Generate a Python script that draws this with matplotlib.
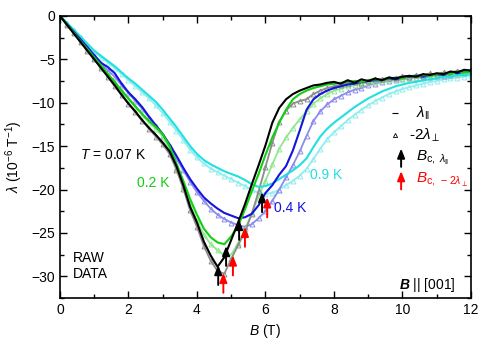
import numpy as np
import matplotlib
matplotlib.use("Agg")
import matplotlib.pyplot as plt

plt.rcParams['font.family'] = ['Liberation Sans', 'DejaVu Sans']
plt.rcParams['mathtext.fontset'] = 'custom'
plt.rcParams['mathtext.rm'] = 'Liberation Sans'
plt.rcParams['mathtext.it'] = 'Liberation Sans:italic'
plt.rcParams['mathtext.bf'] = 'Liberation Sans:bold:italic'

# field grid, 0 .. 12 T in 0.2 T steps
B = np.round(np.arange(0, 12.01, 0.2), 1)

# T = 0.07 K
par_007 = [0, -1.0, -2.0, -3.0, -4.0, -5.0, -6.0, -7.0, -8.0, -9.1, -10.1, -11.0, -12.0, -12.9, -13.7,
           -14.6, -15.6, -17.3, -19.5, -22.0, -23.8, -26.0, -27.6, -28.9, -27.8, -25.8, -23.8, -21.7,
           -19.4, -17.2, -14.9, -12.3, -10.6, -9.6, -9.0, -8.6, -8.3, -8.0, -7.9, -7.7, -7.6, -7.8,
           -7.4, -7.7, -7.3, -7.5, -7.2, -7.4, -7.1, -7.2, -7.0, -6.9, -7.0, -6.7, -6.8, -6.6, -6.7,
           -6.4, -6.5, -6.2, -6.3]
perp_007 = [0, -1.0, -2.0, -3.0, -4.0, -5.0, -6.0, -7.0, -8.1, -9.1, -10.1, -11.1, -12.1, -13.0, -13.9,
            -14.8, -15.9, -17.7, -19.9, -22.4, -24.3, -26.5, -28.2, -29.4, -29.7, -28.0, -26.4, -24.9,
            -22.8, -20.2, -17.4, -14.6, -12.2, -10.9, -10.1, -9.8, -9.6, -9.0, -8.6, -8.3, -8.1, -7.9,
            -7.8, -7.6, -7.7, -7.5, -7.3, -7.3, -7.1, -7.2, -6.9, -7.0, -6.8, -6.9, -6.6, -6.8, -6.5,
            -6.6, -6.3, -6.4, -6.2]

# T = 0.2 K
par_02 = [0, -0.95, -1.9, -2.9, -3.8, -4.8, -5.7, -6.7, -7.6, -8.6, -9.5, -10.4, -11.3, -12.1, -12.8,
          -13.6, -15.0, -17.0, -19.0, -21.1, -22.9, -24.5, -25.5, -26.1, -26.3, -25.4, -24.2, -22.3,
          -20.2, -18.2, -16.0, -14.0, -12.3, -10.8, -9.6, -9.0, -8.6, -8.3, -8.1, -7.9, -7.8, -7.7,
          -7.6, -7.5, -7.6, -7.4, -7.3, -7.4, -7.2, -7.1, -7.2, -6.9, -7.0, -6.8, -6.9, -6.7, -6.6,
          -6.7, -6.4, -6.5, -6.4]
perp_02 = [0, -0.95, -1.9, -2.9, -3.9, -4.9, -5.8, -6.8, -7.7, -8.7, -9.6, -10.5, -11.4, -12.3, -13.0,
           -13.9, -15.4, -17.5, -19.6, -21.7, -23.6, -25.2, -26.3, -27.0, -27.6, -27.5, -26.2, -24.6,
           -22.7, -20.8, -19.0, -17.1, -15.3, -14.0, -12.9, -11.9, -11.0, -10.1, -9.5, -9.0, -8.6,
           -8.4, -8.1, -8.0, -7.8, -7.7, -7.6, -7.5, -7.4, -7.3, -7.3, -7.1, -7.1, -7.0, -6.9, -6.9,
           -6.8, -6.7, -6.7, -6.6, -6.5]

# T = 0.4 K
par_04 = [0, -0.9, -1.8, -2.7, -3.6, -4.5, -5.4, -5.9, -6.6, -7.8, -8.8, -9.6, -10.5, -11.6, -12.6,
          -13.6, -14.8, -16.1, -17.5, -18.8, -19.9, -20.9, -21.6, -22.2, -22.7, -23.0, -23.3, -23.2,
          -22.8, -21.8, -20.4, -19.5, -18.3, -17.3, -15.5, -13.2, -10.8, -9.6, -9.0, -8.6, -8.3, -8.1,
          -7.9, -7.8, -7.6, -7.5, -7.4, -7.4, -7.2, -7.3, -7.1, -7.0, -6.9, -7.0, -6.8, -6.7, -6.8,
          -6.5, -6.6, -6.4, -6.3]
perp_04 = [0, -0.9, -1.8, -2.7, -3.6, -4.6, -5.5, -6.3, -7.0, -8.0, -8.9, -9.8, -10.7, -11.7, -12.7,
           -13.8, -15.0, -16.4, -17.8, -19.1, -20.3, -21.3, -22.2, -22.9, -23.4, -23.8, -24.1, -24.3,
           -24.0, -23.3, -22.5, -21.3, -20.0, -18.6, -17.2, -15.6, -13.8, -12.1, -11.0, -10.2, -9.6,
           -9.2, -8.8, -8.5, -8.3, -8.0, -7.8, -7.6, -7.5, -7.4, -7.3, -7.2, -7.1, -7.1, -7.0, -6.9,
           -6.9, -6.8, -6.7, -6.6, -6.5]

# T = 0.9 K
par_09 = [0, -0.8, -1.6, -2.4, -3.2, -4.0, -4.6, -5.2, -5.8, -6.5, -7.2, -7.8, -8.5, -9.2, -9.9,
          -10.8, -11.8, -12.8, -13.9, -15.0, -15.9, -16.6, -17.1, -17.5, -17.9, -18.2, -18.5, -18.9,
          -19.4, -19.7, -19.6, -19.3, -18.8, -18.3, -17.8, -17.2, -16.4, -15.1, -13.9, -13.0, -12.3,
          -11.7, -11.1, -10.5, -10.0, -9.5, -9.1, -8.7, -8.4, -8.1, -7.9, -7.7, -7.6, -7.4, -7.3,
          -7.2, -7.0, -7.0, -6.8, -6.8, -6.7]
perp_09 = [0, -0.8, -1.6, -2.4, -3.3, -4.1, -4.8, -5.4, -6.0, -6.7, -7.4, -8.1, -8.8, -9.5, -10.3,
           -11.2, -12.2, -13.2, -14.3, -15.4, -16.3, -17.0, -17.6, -18.0, -18.4, -18.8, -19.2, -19.6,
           -20.0, -20.4, -20.5, -20.4, -20.0, -19.5, -19.0, -18.4, -17.6, -16.5, -15.3, -14.2, -13.4,
           -12.7, -12.0, -11.4, -10.8, -10.3, -9.8, -9.4, -9.0, -8.7, -8.4, -8.2, -8.0, -7.8, -7.6,
           -7.5, -7.3, -7.2, -7.1, -7.0, -6.9]

# critical-field arrows (B position, arrow tip)
Bc_par = [4.62, 4.85, 5.23, 5.9]
tip_par = [-28.7, -26.5, -23.5, -20.3]
Bc_perp = [4.77, 5.05, 5.4, 6.05]
tip_perp = [-29.6, -27.6, -24.3, -20.9]

temps = ['0.07 K', '0.2 K', '0.4 K', '0.9 K']
par_series = [par_007, par_02, par_04, par_09]
perp_series = [perp_007, perp_02, perp_04, perp_09]
line_colors = ['black', '#10d010', '#1414dc', '#20e0e0']
tri_colors = ['#8c8c8c', '#90e890', '#8c8cec', '#90eeee']

fig = plt.figure(figsize=(4.9, 3.51), dpi=100)
ax = fig.add_axes([0.1224, 0.151, 0.8388, 0.8035])

for k in [3, 2, 1, 0]:
    ax.plot(B, perp_series[k], '-', color=tri_colors[k], lw=1.3, zorder=1)
    ax.plot(B, perp_series[k], '^', color=tri_colors[k], ms=3.5, mfc='none', mew=0.7, zorder=1)
for k in [3, 2, 1, 0]:
    ax.plot(B, par_series[k], '-', color=line_colors[k], lw=1.5, zorder=2)

arrow_len = 2.3
astyle = '-|>,head_length=0.55,head_width=0.22'
for b, t in zip(Bc_par, tip_par):
    ax.annotate('', xy=(b, t), xytext=(b, t - arrow_len),
                arrowprops=dict(arrowstyle=astyle, color='black', lw=1.4, shrinkA=0, shrinkB=0),
                zorder=4)
for b, t in zip(Bc_perp, tip_perp):
    ax.annotate('', xy=(b, t), xytext=(b, t - arrow_len),
                arrowprops=dict(arrowstyle=astyle, color='red', lw=1.4, shrinkA=0, shrinkB=0),
                zorder=4)

fs = 10
ax.text(0.58, -16.0, '$T$ = 0.07 K', color='black', fontsize=fs, va='center')
ax.text(2.25, -19.3, '0.2 K', color=line_colors[1], fontsize=fs, va='center')
ax.text(6.25, -22.1, '0.4 K', color=line_colors[2], fontsize=fs, va='center')
ax.text(7.3, -18.3, '0.9 K', color=line_colors[3], fontsize=fs, va='center')
ax.text(0.38, -28.8, 'RAW\nDATA', color='black', fontsize=fs, va='center', linespacing=1.15)
ax.text(11.55, -31.0, r'$\mathbf{B}$ || [001]', color='black', fontsize=fs, va='center', ha='right')

# legend drawn by hand
tr = ax.transAxes
ax.plot([0.816], [0.656], marker='_', color='black', ms=4, mew=0.8, transform=tr, clip_on=False)
ax.plot([0.816], [0.578], marker='^', color='black', ms=3, mfc='none', mew=0.6, transform=tr, clip_on=False)
ax.annotate('', xy=(0.83, 0.53), xytext=(0.83, 0.465), xycoords='axes fraction',
            arrowprops=dict(arrowstyle=astyle, color='black', lw=1.4, shrinkA=0, shrinkB=0))
ax.annotate('', xy=(0.83, 0.45), xytext=(0.83, 0.385), xycoords='axes fraction',
            arrowprops=dict(arrowstyle=astyle, color='red', lw=1.4, shrinkA=0, shrinkB=0))
ax.text(0.865, 0.656, r'$\lambda_{\|}$', transform=tr, fontsize=fs + 1, va='center')
ax.text(0.848, 0.578, r'-2$\lambda_{\perp}$', transform=tr, fontsize=fs + 1, va='center')
ax.text(0.865, 0.497, r'$B_{\mathrm{c},\ \lambda_{\|}}$', transform=tr, fontsize=fs + 1, va='center')
ax.text(0.865, 0.418, r'$B_{\mathrm{c},\ -2\lambda_{\perp}}$', transform=tr, fontsize=fs + 1,
        va='center', color='red')

ax.set_xlim(0, 12)
ax.set_ylim(-32.5, 0)
ax.set_xticks(np.arange(0, 13, 2))
ax.set_xticks(np.arange(0, 13, 1), minor=True)
ax.set_yticks(np.arange(-30, 1, 5))
ax.set_yticks(np.arange(-32.5, 0.1, 2.5), minor=True)
ax.tick_params(which='both', direction='in', top=True, right=True, labelsize=fs, width=1)
ax.tick_params(which='major', length=5)
ax.tick_params(which='minor', length=3)
for s in ax.spines.values():
    s.set_linewidth(1.2)

ax.set_xlabel('$B$ (T)', fontsize=fs, labelpad=4)
ax.set_ylabel(r'$\lambda$ (10$^{-6}$ T$^{-1}$)', fontsize=fs)
ax.yaxis.set_label_coords(-0.085, 0.5)

fig.savefig('out.png', dpi=100)
